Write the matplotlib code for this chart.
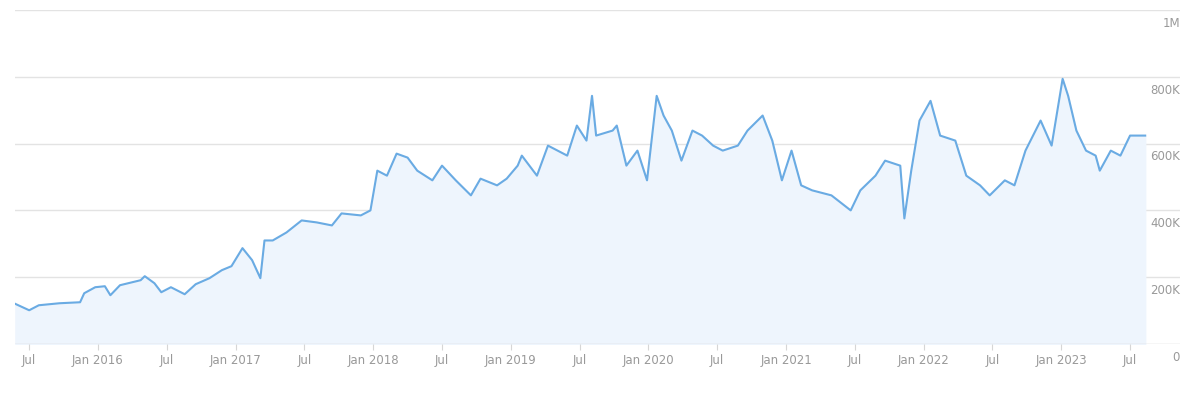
import matplotlib
matplotlib.use("Agg")
import matplotlib.pyplot as plt

years = [2015.40,2015.50,2015.57,2015.72,2015.87,2015.90,2015.98,2016.05,2016.09,2016.16,2016.31,2016.34,2016.41,2016.46,2016.53,2016.63,2016.71,2016.81,2016.90,2016.97,2017.05,2017.12,2017.18,2017.21,2017.27,2017.37,2017.48,2017.59,2017.70,2017.77,2017.91,2017.98,2018.03,2018.10,2018.17,2018.25,2018.32,2018.43,2018.50,2018.60,2018.71,2018.78,2018.90,2018.97,2019.05,2019.08,2019.19,2019.27,2019.34,2019.41,2019.48,2019.55,2019.59,2019.62,2019.74,2019.77,2019.84,2019.92,2019.99,2020.06,2020.11,2020.17,2020.24,2020.32,2020.39,2020.47,2020.54,2020.65,2020.72,2020.83,2020.90,2020.97,2021.04,2021.11,2021.19,2021.33,2021.47,2021.54,2021.65,2021.72,2021.83,2021.86,2021.91,2021.97,2022.05,2022.12,2022.23,2022.31,2022.41,2022.48,2022.59,2022.66,2022.74,2022.85,2022.93,2023.01,2023.05,2023.11,2023.18,2023.25,2023.28,2023.36,2023.43,2023.50,2023.61]
values = [120,101,116,122,125,152,170,173,146,176,191,203,182,155,170,149,179,197,221,233,287,251,197,310,310,334,370,364,355,391,385,400,519,504,570,558,519,490,534,490,445,495,475,495,534,564,504,594,579,564,654,609,743,624,639,654,534,579,490,743,684,639,549,639,624,594,579,594,639,684,609,490,579,475,460,445,400,460,504,549,534,376,519,669,728,624,609,504,475,445,490,475,579,669,594,794,743,639,579,564,519,579,564,624,624]
tick_pos = [2015.5,2016,2016.5,2017,2017.5,2018,2018.5,2019,2019.5,2020,2020.5,2021,2021.5,2022,2022.5,2023,2023.5]
tick_labels = ["Jul","Jan 2016","Jul","Jan 2017","Jul","Jan 2018","Jul","Jan 2019","Jul","Jan 2020","Jul","Jan 2021","Jul","Jan 2022","Jul","Jan 2023","Jul"]
y_ticks = [0,200,400,600,800,1000]
y_labels = ["0","200K","400K","600K","800K","1M"]

fig = plt.figure(figsize=(12,4), dpi=100)
ax = fig.add_axes([15/1200, 56/400, 1165/1200, 334/400])
line_c = "#6aabe3"
ax.fill_between(years, values, 0, color="#eef5fd", zorder=1)
ax.plot(years, values, color=line_c, lw=1.5, zorder=3)
ax.set_xlim(2015.397, 2023.863)
ax.set_ylim(0, 1000)
for yv in y_ticks[1:]:
    ax.axhline(yv, color="#e3e3e3", lw=1, zorder=0)
ax.axhline(0, color="#d6d6d6", lw=1, zorder=4)
for yv, lab in zip(y_ticks, y_labels):
    ax.text(1.0, yv - 40, lab, transform=ax.get_yaxis_transform(), ha="right", va="center",
            fontsize=8.5, color="#999999")
ax.set_yticks([])
ax.set_xticks(tick_pos)
ax.set_xticklabels(tick_labels, fontsize=8.5, color="#999999")
ax.tick_params(axis="x", length=4, color="#d6d6d6", pad=3)
for s in ax.spines.values():
    s.set_visible(False)
fig.savefig("out.png", dpi=100)
